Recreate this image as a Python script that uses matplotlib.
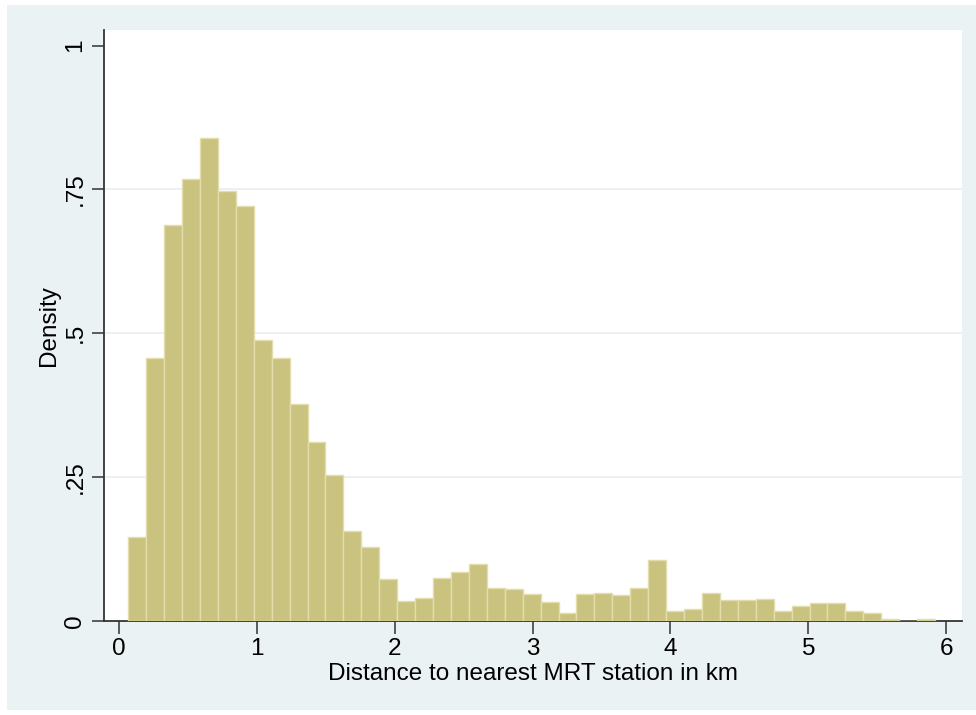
import matplotlib
matplotlib.use("Agg")
import matplotlib.pyplot as plt
import numpy as np

# Histogram bins (Stata-style, 45 bins)
bin_start = 0.065
bin_width = 0.1301
densities = [0.146, 0.457, 0.689, 0.768, 0.839, 0.747, 0.721, 0.488, 0.456, 0.376,
             0.311, 0.254, 0.156, 0.128, 0.073, 0.035, 0.040, 0.075, 0.085, 0.099,
             0.057, 0.055, 0.047, 0.033, 0.013, 0.0465, 0.049, 0.044, 0.056, 0.106,
             0.016, 0.021, 0.049, 0.036, 0.036, 0.037, 0.016, 0.026, 0.031, 0.030,
             0.016, 0.0134, 0.0035, 0.0, 0.0035]
x_ticks = [0, 1, 2, 3, 4, 5, 6]
x_ticklabels = ["0", "1", "2", "3", "4", "5", "6"]
y_ticks = [0, 0.25, 0.5, 0.75, 1]
y_ticklabels = ["0", ".25", ".5", ".75", "1"]
x_title = "Distance to nearest MRT station in km"
y_title = "Density"

plt.rcParams['font.family'] = ['Liberation Sans', 'DejaVu Sans']

W, H = 976, 715
fig = plt.figure(figsize=(W / 100, H / 100), dpi=100)
fig.patch.set_facecolor("white")
bg = plt.Rectangle((7 / W, 1 - 710 / H), 1 - 7 / W, (710 - 5) / H,
                   transform=fig.transFigure, facecolor="#EAF2F3", edgecolor="none", zorder=-10)
fig.add_artist(bg)

left, right, top, bottom = 103.7, 962.5, 30.0, 620.7
ax = fig.add_axes([left / W, 1 - bottom / H, (right - left) / W, (bottom - top) / H])
ax.set_zorder(1)
ax.set_facecolor("white")

edges = bin_start + bin_width * np.arange(len(densities))
ax.bar(edges, densities, width=bin_width, align="edge", color="#CAC27F",
       edgecolor="#E2DDAA", linewidth=1.0, zorder=3)

ax.set_xlim(-0.113, 6.119)
ax.set_ylim(0, 1.0273)

for yv in [0.25, 0.5, 0.75]:
    ax.axhline(yv, color="#E6EEF1", linewidth=1.2, zorder=1)

ax.set_xticks(x_ticks)
ax.set_xticklabels(x_ticklabels)
ax.set_yticks(y_ticks)
ax.set_yticklabels(y_ticklabels, rotation=90, va="center")

for s in ["top", "right"]:
    ax.spines[s].set_visible(False)
for s in ["left", "bottom"]:
    ax.spines[s].set_color("#333333")
    ax.spines[s].set_linewidth(1.3)

ax.tick_params(axis="both", length=9, width=1.1, color="#333333", labelsize=17.5, pad=3.5,
               labelcolor="black")
ax.set_xlabel(x_title, fontsize=17.5, labelpad=2)
ax.set_ylabel(y_title, fontsize=17.5, labelpad=3)

fig.savefig("out.png", dpi=100, facecolor=fig.get_facecolor())
